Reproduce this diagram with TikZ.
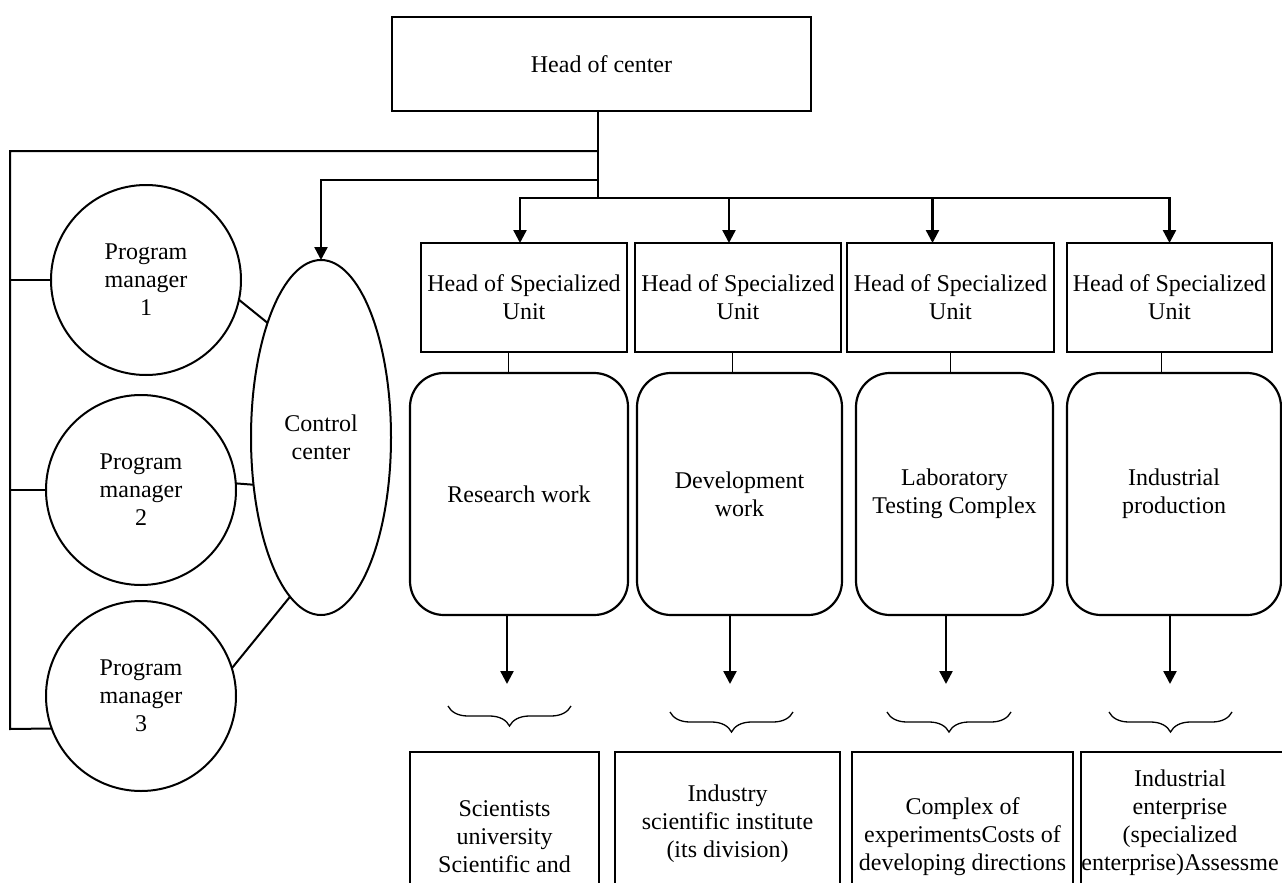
\documentclass[tikz,border=0pt]{standalone}
\usepackage{fontspec}
\setmainfont{Liberation Serif}
\usetikzlibrary{arrows.meta,shapes.geometric,decorations.pathreplacing,calc}
\begin{document}
\begin{tikzpicture}[x=1pt,y=-1pt,
  every node/.style={font=\fontsize{24}{28}\selectfont, align=center, inner sep=0pt, outer sep=0pt},
  box/.style={draw, line width=2.4pt, rectangle},
  rbox/.style={draw, line width=2.2pt, rectangle, rounded corners=34pt},
  circ/.style={draw, line width=2pt, circle, minimum size=190pt},
  conn/.style={line width=2pt},
  thinconn/.style={line width=1pt},
  arr/.style={line width=2.4pt, -{Triangle[width=13pt,length=13pt]}},
  brc/.style={line width=1.3pt, decorate, decoration={brace, mirror, amplitude=20pt}}
]
\useasboundingbox (0,0) rectangle (1282,883);
\clip (0,0) rectangle (1282,883);

% top
\node[box, minimum width=419pt, minimum height=94pt] (head) at (601.5,64) {Head of center};

% left side
\node[circ] (p1) at (146,280) {Program\\manager\\1};
\node[circ] (p2) at (141,490) {Program\\manager\\2};
\node[circ] (p3) at (141,696) {Program\\manager\\3};
\node[draw, line width=2pt, ellipse, minimum width=140pt, minimum height=355pt] (cc) at (321,437.5) {Control\\center};

% heads of units
\node[box, minimum width=206pt, minimum height=109pt] (h1) at (524,297.5) {Head of Specialized\\Unit};
\node[box, minimum width=206pt, minimum height=109pt] (h2) at (738,297.5) {Head of Specialized\\Unit};
\node[box, minimum width=207pt, minimum height=109pt] (h3) at (950.5,297.5) {Head of Specialized\\Unit};
\node[box, minimum width=205pt, minimum height=109pt] (h4) at (1169.5,297.5) {Head of Specialized\\Unit};

% work areas
\node[rbox, minimum width=218pt, minimum height=242pt] (r1) at (519,494) {Research work};
\node[rbox, minimum width=205pt, minimum height=242pt] (r2) at (739.5,494) {Development\\work};
\node[rbox, minimum width=197pt, minimum height=242pt] (r3) at (954.5,494) {Laboratory\\Testing Complex};
\node[rbox, minimum width=214pt, minimum height=242pt] (r4) at (1174,494) {Industrial\\production};

% bottom boxes
\node[box, minimum width=189pt, minimum height=170pt] (b1) at (504.5,837) {Scientists\\university\\Scientific and};
\node[box, minimum width=225pt, minimum height=144pt] (b2) at (727.5,824) {Industry\\scientific institute\\(its division)};
\node[box, minimum width=221pt, minimum height=170pt] (b3) at (962.5,837) {Complex of\\experimentsCosts of\\developing directions};
\node[box, minimum width=220pt, minimum height=141pt,
  label={[xshift=-11pt]center:Industrial\\enterprise\\(specialized\\enterprise)Assessme}] (b4) at (1191,822.5) {};

% coordinates
\coordinate (jl) at (598,151);
\coordinate (jc) at (598,180);
\coordinate (jb) at (598,198);
\coordinate (lt) at (10,151);
\coordinate (lb) at (10,729);
\coordinate (t1) at (507,684);
\coordinate (t2) at (730,684);
\coordinate (t3) at (946,684);
\coordinate (t4) at (1170,684);

% trunk
\draw[conn] (head.south -| jb) -- (jb);
\draw[conn] (jl) -- (lt) -- (lb) -- (p3.200);
\draw[conn] (lt |- p1.west) -- (p1.west);
\draw[conn] (lt |- p2.west) -- (p2.west);
\draw[arr] (jc) -| (cc.north);

% circles to control centre
\draw[conn] (p1.-12) -- (cc.115);
\draw[conn] (p2.4) -- (cc.215);
\draw[conn] (p3.17) -- (cc.259);

% bus to heads
\draw[arr] (jb) -| ([xshift=-4pt]h1.north);
\draw[arr] (jb) -| ([xshift=-9pt]h2.north);
\draw[arr] (jb) -| ([xshift=-18pt]h3.north);
\draw[arr] (jb) -| (h4.north);

% heads to work areas
\draw[thinconn] ([xshift=-16pt]h1.south) -- ([xshift=-16pt]h1.south |- r1.north);
\draw[thinconn] ([xshift=-6pt]h2.south) -- ([xshift=-6pt]h2.south |- r2.north);
\draw[thinconn] (h3.south) -- (h3.south |- r3.north);
\draw[thinconn] ([xshift=-8.5pt]h4.south) -- ([xshift=-8.5pt]h4.south |- r4.north);

% work areas down
\draw[arr] (r1.south -| t1) -- (t1);
\draw[arr] (r2.south -| t2) -- (t2);
\draw[arr] (r3.south -| t3) -- (t3);
\draw[arr] (r4.south -| t4) -- (t4);

% braces
\draw[brc] (448,706) -- (571,706);
\draw[brc] (670,712) -- (793,712);
\draw[brc] (887,712) -- (1011,712);
\draw[brc] (1109,712) -- (1232,712);
\end{tikzpicture}
\end{document}
